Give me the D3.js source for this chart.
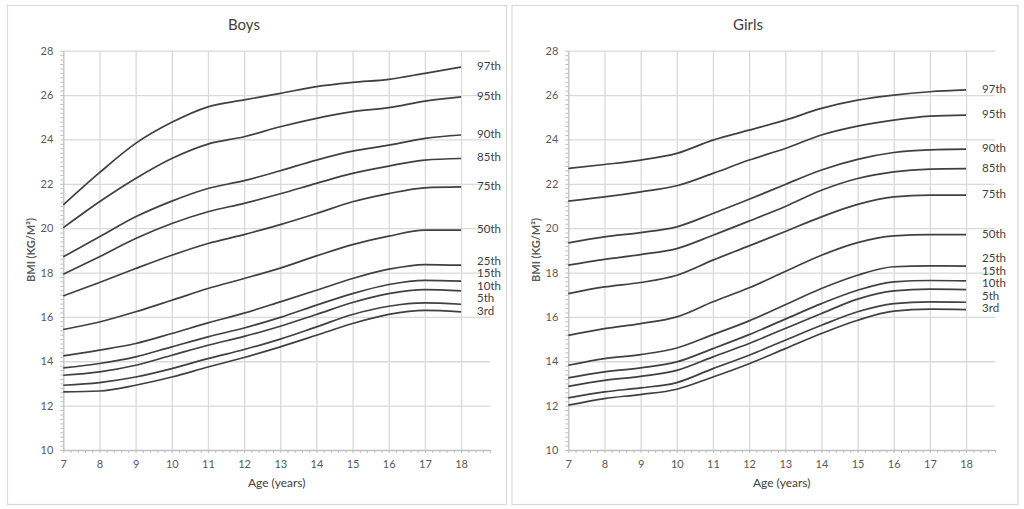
<!DOCTYPE html>
<html>
<head>
  <meta charset="utf-8">
  <script src="https://d3js.org/d3.v7.min.js"></script>
  <style>
    body { margin: 0; background: #fff; }
    svg text { font-family: Lato, "Noto Sans", sans-serif; }
    .gridlines line { stroke: #d9d9d9; stroke-width: 1.3; }
    .gridlines .domain { stroke: none; }
    .axis .domain { stroke: #bfbfbf; stroke-width: 1.3; }
    .axis line { stroke: #bfbfbf; }
    .axis text { fill: #595959; font-size: 11px; }
  </style>
</head>
<body>
  <svg id="chart" width="1024" height="509"></svg>

  <script>
    // ---- data (BMI by age)
    const ages = [7, 8, 9, 10, 11, 12, 13, 14, 15, 16, 17, 18];
    const percentiles = ["97th", "95th", "90th", "85th", "75th", "50th", "25th", "15th", "10th", "5th", "3rd"];
    const yTicks = [10, 12, 14, 16, 18, 20, 22, 24, 26, 28];
    const xTicks = [7, 8, 9, 10, 11, 12, 13, 14, 15, 16, 17, 18];

    const boys97 = [21.05, 22.5, 23.82, 24.77, 25.47, 25.78, 26.08, 26.38, 26.57, 26.71, 26.98, 27.26];
    const boys95 = [20.02, 21.19, 22.24, 23.14, 23.79, 24.12, 24.57, 24.95, 25.25, 25.43, 25.73, 25.92];
    const boys90 = [18.71, 19.61, 20.51, 21.22, 21.79, 22.14, 22.59, 23.07, 23.47, 23.74, 24.05, 24.2];
    const boys85 = [17.92, 18.71, 19.53, 20.21, 20.74, 21.12, 21.55, 22.02, 22.47, 22.8, 23.07, 23.14];
    const boys75 = [16.95, 17.55, 18.18, 18.78, 19.31, 19.71, 20.16, 20.66, 21.19, 21.56, 21.82, 21.86];
    const boys50 = [15.43, 15.77, 16.23, 16.75, 17.28, 17.73, 18.2, 18.75, 19.26, 19.64, 19.91, 19.91];
    const boys25 = [14.24, 14.5, 14.8, 15.25, 15.73, 16.17, 16.68, 17.2, 17.73, 18.15, 18.36, 18.33];
    const boys15 = [13.7, 13.9, 14.2, 14.65, 15.1, 15.5, 15.98, 16.53, 17.05, 17.46, 17.65, 17.61];
    const boys10 = [13.37, 13.52, 13.82, 14.27, 14.72, 15.12, 15.58, 16.11, 16.65, 17.05, 17.23, 17.17];
    const boys5 = [12.92, 13.04, 13.29, 13.67, 14.12, 14.53, 15.0, 15.55, 16.11, 16.48, 16.63, 16.57];
    const boys3 = [12.62, 12.66, 12.92, 13.29, 13.74, 14.17, 14.65, 15.17, 15.7, 16.11, 16.29, 16.23];

    const girls97 = [22.69, 22.87, 23.07, 23.37, 23.97, 24.42, 24.87, 25.4, 25.77, 26.0, 26.15, 26.23];
    const girls95 = [21.22, 21.41, 21.64, 21.91, 22.47, 23.07, 23.59, 24.2, 24.6, 24.87, 25.05, 25.1];
    const girls90 = [19.34, 19.61, 19.8, 20.06, 20.66, 21.3, 21.97, 22.62, 23.1, 23.41, 23.53, 23.56];
    const girls85 = [18.33, 18.59, 18.81, 19.08, 19.68, 20.32, 20.98, 21.71, 22.24, 22.54, 22.66, 22.68];
    const girls75 = [17.05, 17.35, 17.55, 17.88, 18.56, 19.2, 19.85, 20.51, 21.07, 21.41, 21.49, 21.49];
    const girls50 = [15.17, 15.47, 15.7, 16.0, 16.68, 17.31, 18.05, 18.78, 19.35, 19.65, 19.71, 19.71];
    const girls25 = [13.82, 14.12, 14.3, 14.6, 15.2, 15.82, 16.55, 17.28, 17.88, 18.26, 18.3, 18.29];
    const girls15 = [13.25, 13.52, 13.7, 13.97, 14.57, 15.2, 15.9, 16.6, 17.2, 17.58, 17.64, 17.62];
    const girls10 = [12.87, 13.14, 13.32, 13.59, 14.2, 14.8, 15.48, 16.15, 16.8, 17.17, 17.25, 17.23];
    const girls5 = [12.35, 12.62, 12.8, 13.04, 13.67, 14.27, 14.95, 15.62, 16.23, 16.6, 16.68, 16.66];
    const girls3 = [12.02, 12.32, 12.5, 12.74, 13.29, 13.89, 14.57, 15.25, 15.85, 16.26, 16.35, 16.33];

    const boysSeries = [boys97, boys95, boys90, boys85, boys75, boys50, boys25, boys15, boys10, boys5, boys3];
    const girlsSeries = [girls97, girls95, girls90, girls85, girls75, girls50, girls25, girls15, girls10, girls5, girls3];

    const svg = d3.select("svg#chart");

    // one panel per sex
    function drawPanel(title, series, box) {
      const g = svg.append("g");

      // panel frame
      g.append("rect")
        .attr("x", box.x).attr("y", 5.5)
        .attr("width", box.w).attr("height", 499)
        .attr("fill", "white").attr("stroke", "#d9d9d9").attr("stroke-width", 1.2);

      const chartWidth = 426.7;
      const chartHeight = 450 - 50.7;
      const xScale = d3.scaleLinear().domain([7, 18.8]).range([box.left, box.left + chartWidth]);
      const yScale = d3.scaleLinear().domain([10, 28]).range([450, 50.7]);

      // gridlines
      g.append("g")
        .attr("class", "y gridlines")
        .attr("transform", `translate(${box.left},0)`)
        .call(d3.axisLeft(yScale).tickValues(yTicks.slice(1)).tickFormat("").tickSize(-chartWidth));
      g.append("g")
        .attr("class", "x gridlines")
        .attr("transform", `translate(0,450)`)
        .call(d3.axisBottom(xScale).tickValues(xTicks.slice(1)).tickFormat("").tickSize(-chartHeight));

      // minor ticks
      g.append("g")
        .attr("class", "axis")
        .attr("transform", `translate(${box.left},0)`)
        .call(d3.axisLeft(yScale).tickValues(d3.range(10, 28.01, 0.2)).tickFormat("").tickSize(3))
        .select(".domain").remove();
      g.append("g")
        .attr("class", "axis")
        .attr("transform", `translate(0,450)`)
        .call(d3.axisBottom(xScale).tickValues(d3.range(7, 18.81, 0.2)).tickFormat("").tickSize(3))
        .select(".domain").remove();

      // main axes
      g.append("g")
        .attr("class", "y axis")
        .attr("transform", `translate(${box.left},0)`)
        .call(d3.axisLeft(yScale).tickValues(yTicks).tickSize(0).tickPadding(10).tickSizeOuter(0));
      g.append("g")
        .attr("class", "x axis")
        .attr("transform", `translate(0,450)`)
        .call(d3.axisBottom(xScale).tickValues(xTicks).tickSize(0).tickPadding(10).tickSizeOuter(0));

      // curves
      const line = d3.line()
        .x((d, i) => xScale(ages[i]))
        .y(d => yScale(d))
        .curve(d3.curveMonotoneX);

      series.forEach(s => {
        g.append("path")
          .attr("d", line(s))
          .attr("fill", "none")
          .attr("stroke", "#404040")
          .attr("stroke-width", 1.7);
      });

      // percentile labels at line ends, nudged apart
      let ys = series.map(s => yScale(s[s.length - 1]));
      for (let i = ys.length - 2; i >= 0; i--) {
        if (ys[i] > ys[i + 1] - 12.5) ys[i] = ys[i + 1] - 12.5;
      }
      percentiles.forEach((p, i) => {
        g.append("text")
          .attr("x", xScale(18) + 16)
          .attr("y", ys[i])
          .attr("dominant-baseline", "middle")
          .style("font-size", "11.5px")
          .style("fill", "#404040")
          .text(p);
      });

      // titles
      g.append("text")
        .attr("x", box.titleX).attr("y", 30)
        .attr("text-anchor", "middle")
        .style("font-size", "15px")
        .style("fill", "#404040")
        .text(title);

      g.append("text")
        .attr("transform", `translate(${box.left - 28},250) rotate(-90)`)
        .attr("text-anchor", "middle")
        .style("font-size", "11px")
        .style("font-weight", "bold")
        .style("fill", "#595959")
        .text("BMI (KG/M²)");

      g.append("text")
        .attr("x", box.left + chartWidth / 2).attr("y", 487)
        .attr("text-anchor", "middle")
        .style("font-size", "12px")
        .style("fill", "#404040")
        .text("Age (years)");
    }

    drawPanel("Boys", boysSeries, { x: 7.5, w: 499, left: 63.3, titleX: 244 });
    drawPanel("Girls", girlsSeries, { x: 512, w: 506, left: 568.3, titleX: 748 });
  </script>
</body>
</html>
